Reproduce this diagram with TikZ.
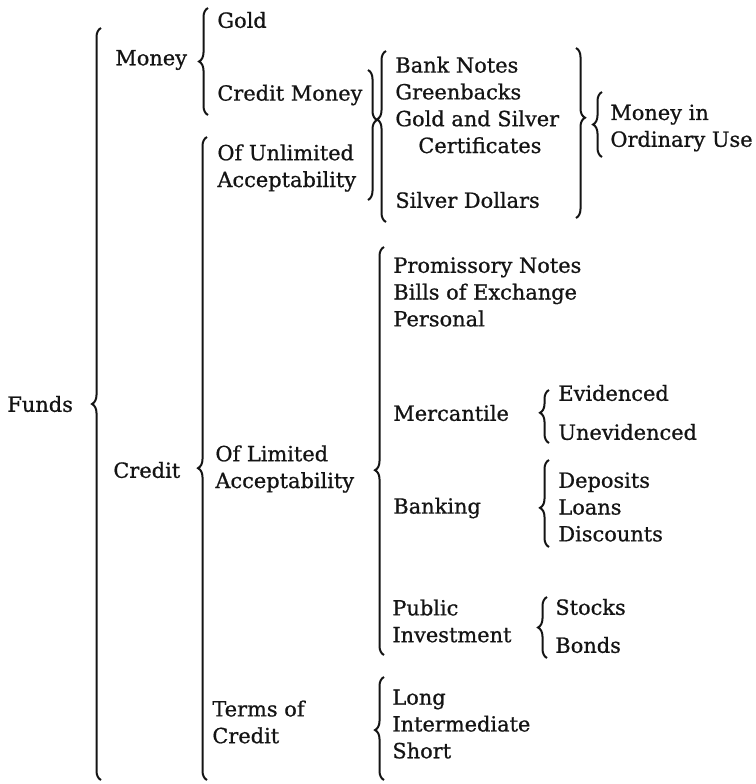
\documentclass[tikz,border=0pt]{standalone}
\usepackage{fontspec}
\setmainfont{DejaVu Serif}[FakeBold=0.8]
\usepackage{tikz}
\usetikzlibrary{decorations.pathreplacing, calc}
\definecolor{inkblack}{RGB}{20, 20, 20}
\tikzstyle{entry} = [
    inner sep=0pt,
    anchor=west,
    align=left,
    text=inkblack,
    font=\fontsize{10.45}{13.4}\selectfont
]
\tikzstyle{curly} = [
    decorate,
    decoration={brace, amplitude=4.5pt},
    line width=1pt,
    draw=inkblack
]

\begin{document}
\begin{tikzpicture}[x=0.5pt, y=-0.5pt]
        \useasboundingbox (0, 0) rectangle (756, 784);

        % First level
        \node[entry] (funds) at (7, 404) {Funds};
        \node[entry] (money) at (115, 60) {Money};
        \node[entry] (credit) at (113, 470) {Credit};

        % Money
        \node[entry] (gold) at (217, 20) {Gold};
        \node[entry] (creditmoney) at (217, 95) {Credit Money};

        % Credit
        \node[entry] (unlimited) at (217, 168) {Of Unlimited\\Acceptability};
        \node[entry] (limited) at (215, 469) {Of Limited\\Acceptability};
        \node[entry] (terms) at (212, 722) {Terms of\\Credit};

        % Money in ordinary use
        \node[entry] (notes) at (395, 105) {Bank Notes\\Greenbacks\\Gold and Silver\\\hspace*{11.5pt}Certificates};
        \node[entry] (dollars) at (395, 200) {Silver Dollars};
        \node[entry] (ordinary) at (610, 128) {Money in\\Ordinary Use};

        % Of limited acceptability
        \node[entry] (promissory) at (393, 292) {Promissory Notes\\Bills of Exchange\\Personal};
        \node[entry] (mercantile) at (393, 413) {Mercantile};
        \node[entry] (evidenced) at (558, 393) {Evidenced};
        \node[entry] (unevidenced) at (558, 432) {Unevidenced};
        \node[entry] (banking) at (393, 508) {Banking};
        \node[entry] (deposits) at (558, 507) {Deposits\\Loans\\Discounts};
        \node[entry] (public) at (392, 621) {Public\\Investment};
        \node[entry] (stocks) at (555, 607) {Stocks};
        \node[entry] (bonds) at (555, 645) {Bonds};

        % Terms of credit
        \node[entry] (periods) at (392, 724) {Long\\Intermediate\\Short};

        % Brace ends
        \coordinate (fundsB) at (101, 780);
        \coordinate (fundsT) at (101, 28);
        \coordinate (moneyB) at (208, 115);
        \coordinate (moneyT) at (208, 8);
        \coordinate (creditB) at (207, 780);
        \coordinate (creditT) at (207, 137);
        \coordinate (joinT) at (368, 70);
        \coordinate (joinB) at (368, 200);
        \coordinate (notesB) at (386, 222);
        \coordinate (notesT) at (386, 51);
        \coordinate (useT) at (576, 48);
        \coordinate (useB) at (576, 218);
        \coordinate (ordinaryB) at (602, 157);
        \coordinate (ordinaryT) at (602, 92);
        \coordinate (limitedB) at (384, 655);
        \coordinate (limitedT) at (384, 247);
        \coordinate (mercB) at (549, 443);
        \coordinate (mercT) at (549, 390);
        \coordinate (bankB) at (549, 547);
        \coordinate (bankT) at (549, 460);
        \coordinate (publicB) at (547, 658);
        \coordinate (publicT) at (547, 597);
        \coordinate (termsB) at (384, 780);
        \coordinate (termsT) at (384, 677);

        % Braces
        \draw[curly] (fundsB) -- (fundsT);
        \draw[curly] (moneyB) -- (moneyT);
        \draw[curly, decoration={aspect=0.485}] (creditB) -- (creditT);
        \draw[curly, decoration={aspect=0.385}] (joinT) -- (joinB);
        \draw[curly, decoration={aspect=0.6}] (notesB) -- (notesT);
        \draw[curly, decoration={aspect=0.41}] (useT) -- (useB);
        \draw[curly] (ordinaryB) -- (ordinaryT);
        \draw[curly, decoration={aspect=0.453}] (limitedB) -- (limitedT);
        \draw[curly, decoration={aspect=0.57}] (mercB) -- (mercT);
        \draw[curly, decoration={aspect=0.45}] (bankB) -- (bankT);
        \draw[curly] (publicB) -- (publicT);
        \draw[curly, decoration={aspect=0.485}] (termsB) -- (termsT);
    \end{tikzpicture}
\end{document}
